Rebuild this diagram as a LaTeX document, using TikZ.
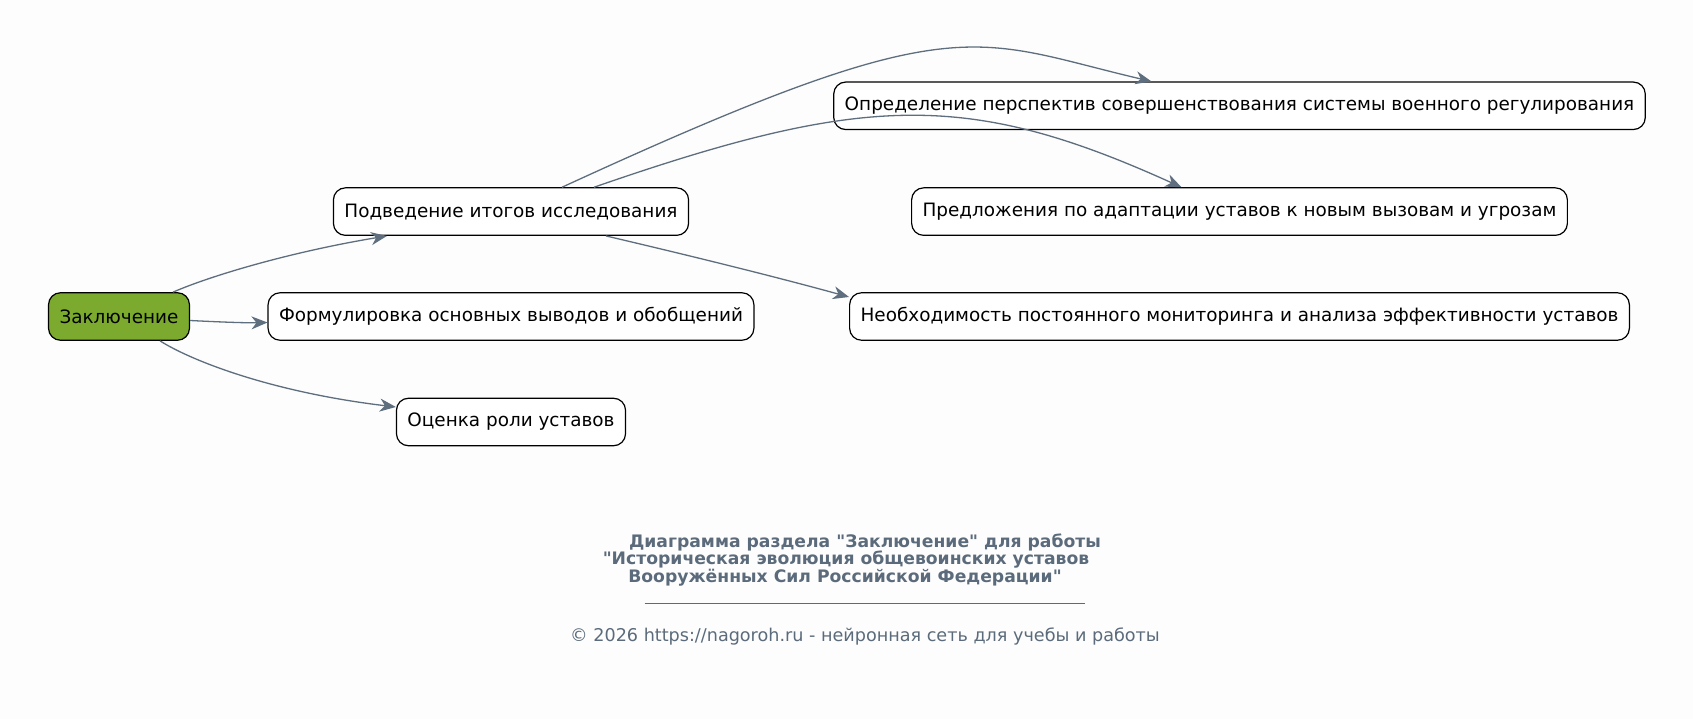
\documentclass[tikz,border=0pt]{standalone}
\usepackage{fontspec}
\setmainfont[Ligatures=TeXReset]{DejaVu Sans}
\usetikzlibrary{arrows.meta}
\definecolor{bg}{HTML}{FDFDFD}
\definecolor{leaf}{HTML}{7BAA2E}
\definecolor{edgec}{HTML}{5E6E7E}
\definecolor{titlec}{HTML}{5B6B7B}
\tikzset{
  box/.style={draw=black, line width=1.2pt, rounded corners=12pt, fill=white,
    minimum height=47.5pt, inner xsep=11pt, inner ysep=0pt,
    font=\fontsize{18.4}{22}\selectfont, text=black},
  rootbox/.style={box, fill=leaf},
  conn/.style={draw=edgec, line width=1.3pt, -{Stealth[length=16pt,width=13pt,inset=5pt]}},
  titletxt/.style={font=\bfseries\fontsize{17.2}{19}\selectfont, text=titlec, inner sep=0pt},
  foottxt/.style={font=\fontsize{17.6}{19}\selectfont, text=titlec, inner sep=0pt}
}
\begin{document}
\begin{tikzpicture}[x=1pt,y=-1pt]
\useasboundingbox[fill=bg] (0,0) rectangle (1693,719);
\node[rootbox] (z) at (119,316.5) {Заключение};
\node[box] (p) at (511,211.6) {Подведение итогов исследования};
\node[box] (f) at (511,316.5) {Формулировка основных выводов и обобщений};
\node[box] (o) at (511,422) {Оценка роли уставов};
\node[box] (d) at (1239.5,105.8) {Определение перспектив совершенствования системы военного регулирования};
\node[box] (pr) at (1239.5,211.6) {Предложения по адаптации уставов к новым вызовам и угрозам};
\node[box] (n) at (1239.5,316.5) {Необходимость постоянного мониторинга и анализа эффективности уставов};

\draw[conn] ([xshift=54pt]z.north) .. controls (210,276) and (290,252) .. ([xshift=-124pt]p.south);
\draw[conn] ([yshift=-4pt]z.east) .. controls (220,322) and (245,323) .. ([yshift=-6pt]f.west);
\draw[conn] ([xshift=41pt]z.south) .. controls (190,360) and (270,392) .. ([yshift=15pt]o.west);
\draw[conn] ([xshift=51pt]p.north) .. controls (960,4) and (970,39) .. ([xshift=-88pt]d.north);
\draw[conn] ([xshift=83pt]p.north) .. controls (864,93.5) and (968,90.5) .. ([xshift=-58pt]pr.north);
\draw[conn] ([xshift=95pt]p.south) .. controls (700,258) and (780,278) .. ([yshift=19.5pt]n.west);

\node[titletxt] (t1) at (865,542) {Диаграмма раздела "Заключение" для работы};
\node[titletxt] (t2) at (846,560) {"Историческая эволюция общевоинских уставов};
\node[titletxt] (t3) at (845,577.5) {Вооружённых Сил Российской Федерации"};
\coordinate (sl) at (644.6,603.5);
\coordinate (sr) at (1085,603.5);
\draw[titlec, line width=1pt] (sl) -- (sr);
\node[foottxt] (ft) at (865,636) {© 2026 https://nagoroh.ru - нейронная сеть для учебы и работы};
\end{tikzpicture}
\end{document}
